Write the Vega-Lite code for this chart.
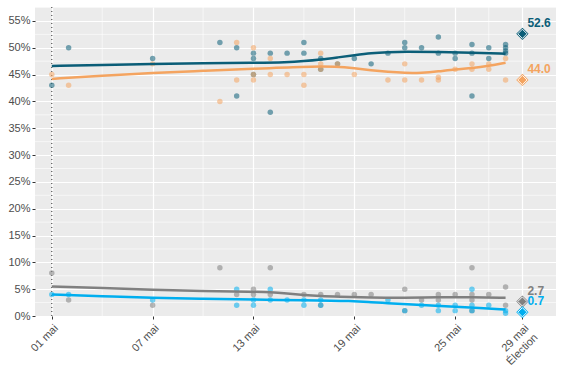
{
  "$schema": "https://vega.github.io/schema/vega-lite/v6.json",
  "width": 521,
  "height": 309,
  "autosize": "none",
  "padding": {"left": 35, "top": 7, "right": 7, "bottom": 60},
  "background": "white",
  "config": {
    "view": {"fill": "#EBEBEB", "stroke": null},
    "font": "Liberation Sans",
    "axis": {
      "domain": false,
      "grid": true,
      "gridColor": "white",
      "gridWidth": 1.2,
      "tickColor": "#333333",
      "tickSize": 3,
      "labelColor": "#4D4D4D",
      "labelFontSize": 11,
      "labelFont": "Liberation Sans",
      "labelOverlap": false,
      "title": null
    }
  },
  "datasets": {
    "polls": [
      {"date": "2019-05-01", "party": "A", "value": 43},
      {"date": "2019-05-02", "party": "A", "value": 50},
      {"date": "2019-05-07", "party": "A", "value": 48},
      {"date": "2019-05-11", "party": "A", "value": 51},
      {"date": "2019-05-12", "party": "A", "value": 50},
      {"date": "2019-05-12", "party": "A", "value": 41},
      {"date": "2019-05-13", "party": "A", "value": 49},
      {"date": "2019-05-13", "party": "A", "value": 48},
      {"date": "2019-05-13", "party": "A", "value": 45},
      {"date": "2019-05-14", "party": "A", "value": 49},
      {"date": "2019-05-14", "party": "A", "value": 38},
      {"date": "2019-05-15", "party": "A", "value": 49},
      {"date": "2019-05-16", "party": "A", "value": 51},
      {"date": "2019-05-16", "party": "A", "value": 49},
      {"date": "2019-05-17", "party": "A", "value": 48},
      {"date": "2019-05-17", "party": "A", "value": 46},
      {"date": "2019-05-18", "party": "A", "value": 47},
      {"date": "2019-05-19", "party": "A", "value": 48},
      {"date": "2019-05-20", "party": "A", "value": 47},
      {"date": "2019-05-21", "party": "A", "value": 49},
      {"date": "2019-05-22", "party": "A", "value": 51},
      {"date": "2019-05-22", "party": "A", "value": 50},
      {"date": "2019-05-23", "party": "A", "value": 50},
      {"date": "2019-05-24", "party": "A", "value": 52},
      {"date": "2019-05-24", "party": "A", "value": 49},
      {"date": "2019-05-25", "party": "A", "value": 49},
      {"date": "2019-05-25", "party": "A", "value": 48},
      {"date": "2019-05-26", "party": "A", "value": 50.6},
      {"date": "2019-05-26", "party": "A", "value": 49},
      {"date": "2019-05-26", "party": "A", "value": 41},
      {"date": "2019-05-27", "party": "A", "value": 50},
      {"date": "2019-05-27", "party": "A", "value": 48},
      {"date": "2019-05-28", "party": "A", "value": 50.6},
      {"date": "2019-05-28", "party": "A", "value": 50},
      {"date": "2019-05-28", "party": "A", "value": 49.4},
      {"date": "2019-05-28", "party": "A", "value": 49},
      {"date": "2019-05-01", "party": "B", "value": 45},
      {"date": "2019-05-02", "party": "B", "value": 43},
      {"date": "2019-05-07", "party": "B", "value": 47},
      {"date": "2019-05-11", "party": "B", "value": 40},
      {"date": "2019-05-12", "party": "B", "value": 51},
      {"date": "2019-05-12", "party": "B", "value": 44},
      {"date": "2019-05-13", "party": "B", "value": 50},
      {"date": "2019-05-13", "party": "B", "value": 45},
      {"date": "2019-05-13", "party": "B", "value": 44},
      {"date": "2019-05-14", "party": "B", "value": 48},
      {"date": "2019-05-14", "party": "B", "value": 45},
      {"date": "2019-05-15", "party": "B", "value": 45},
      {"date": "2019-05-16", "party": "B", "value": 45},
      {"date": "2019-05-16", "party": "B", "value": 43},
      {"date": "2019-05-17", "party": "B", "value": 49},
      {"date": "2019-05-17", "party": "B", "value": 47},
      {"date": "2019-05-17", "party": "B", "value": 46},
      {"date": "2019-05-18", "party": "B", "value": 47},
      {"date": "2019-05-19", "party": "B", "value": 45},
      {"date": "2019-05-21", "party": "B", "value": 44},
      {"date": "2019-05-22", "party": "B", "value": 47},
      {"date": "2019-05-22", "party": "B", "value": 44},
      {"date": "2019-05-23", "party": "B", "value": 44},
      {"date": "2019-05-24", "party": "B", "value": 44},
      {"date": "2019-05-24", "party": "B", "value": 44.5},
      {"date": "2019-05-25", "party": "B", "value": 46},
      {"date": "2019-05-26", "party": "B", "value": 47},
      {"date": "2019-05-26", "party": "B", "value": 46},
      {"date": "2019-05-27", "party": "B", "value": 47},
      {"date": "2019-05-27", "party": "B", "value": 46},
      {"date": "2019-05-28", "party": "B", "value": 48},
      {"date": "2019-05-28", "party": "B", "value": 44},
      {"date": "2019-05-01", "party": "C", "value": 8},
      {"date": "2019-05-02", "party": "C", "value": 3},
      {"date": "2019-05-07", "party": "C", "value": 2},
      {"date": "2019-05-11", "party": "C", "value": 9},
      {"date": "2019-05-12", "party": "C", "value": 4},
      {"date": "2019-05-13", "party": "C", "value": 5},
      {"date": "2019-05-13", "party": "C", "value": 4},
      {"date": "2019-05-14", "party": "C", "value": 9},
      {"date": "2019-05-14", "party": "C", "value": 4},
      {"date": "2019-05-16", "party": "C", "value": 4},
      {"date": "2019-05-17", "party": "C", "value": 4},
      {"date": "2019-05-17", "party": "C", "value": 2},
      {"date": "2019-05-18", "party": "C", "value": 4},
      {"date": "2019-05-19", "party": "C", "value": 4},
      {"date": "2019-05-20", "party": "C", "value": 4},
      {"date": "2019-05-22", "party": "C", "value": 5},
      {"date": "2019-05-22", "party": "C", "value": 1},
      {"date": "2019-05-23", "party": "C", "value": 3},
      {"date": "2019-05-24", "party": "C", "value": 4},
      {"date": "2019-05-24", "party": "C", "value": 3},
      {"date": "2019-05-25", "party": "C", "value": 4},
      {"date": "2019-05-26", "party": "C", "value": 9},
      {"date": "2019-05-26", "party": "C", "value": 4},
      {"date": "2019-05-26", "party": "C", "value": 3},
      {"date": "2019-05-26", "party": "C", "value": 1},
      {"date": "2019-05-27", "party": "C", "value": 4},
      {"date": "2019-05-28", "party": "C", "value": 5.4},
      {"date": "2019-05-28", "party": "C", "value": 2},
      {"date": "2019-05-01", "party": "D", "value": 4},
      {"date": "2019-05-02", "party": "D", "value": 4},
      {"date": "2019-05-07", "party": "D", "value": 3},
      {"date": "2019-05-12", "party": "D", "value": 5},
      {"date": "2019-05-12", "party": "D", "value": 2},
      {"date": "2019-05-13", "party": "D", "value": 3},
      {"date": "2019-05-13", "party": "D", "value": 2},
      {"date": "2019-05-14", "party": "D", "value": 5},
      {"date": "2019-05-14", "party": "D", "value": 3},
      {"date": "2019-05-15", "party": "D", "value": 3},
      {"date": "2019-05-16", "party": "D", "value": 3},
      {"date": "2019-05-16", "party": "D", "value": 2},
      {"date": "2019-05-17", "party": "D", "value": 3},
      {"date": "2019-05-17", "party": "D", "value": 2},
      {"date": "2019-05-21", "party": "D", "value": 3},
      {"date": "2019-05-22", "party": "D", "value": 1},
      {"date": "2019-05-23", "party": "D", "value": 2},
      {"date": "2019-05-24", "party": "D", "value": 2},
      {"date": "2019-05-24", "party": "D", "value": 1},
      {"date": "2019-05-25", "party": "D", "value": 2},
      {"date": "2019-05-25", "party": "D", "value": 1},
      {"date": "2019-05-26", "party": "D", "value": 5},
      {"date": "2019-05-26", "party": "D", "value": 2},
      {"date": "2019-05-26", "party": "D", "value": 1},
      {"date": "2019-05-27", "party": "D", "value": 2},
      {"date": "2019-05-28", "party": "D", "value": 1},
      {"date": "2019-05-28", "party": "D", "value": 0.5}
    ],
    "trend": [
      {"date": "2019-05-01", "party": "A", "value": 46.6},
      {"date": "2019-05-04", "party": "A", "value": 46.8},
      {"date": "2019-05-07", "party": "A", "value": 47.0},
      {"date": "2019-05-10", "party": "A", "value": 47.1},
      {"date": "2019-05-13", "party": "A", "value": 47.2},
      {"date": "2019-05-15", "party": "A", "value": 47.3},
      {"date": "2019-05-16", "party": "A", "value": 47.5},
      {"date": "2019-05-17", "party": "A", "value": 47.8},
      {"date": "2019-05-18", "party": "A", "value": 48.2},
      {"date": "2019-05-19", "party": "A", "value": 48.6},
      {"date": "2019-05-20", "party": "A", "value": 49.0},
      {"date": "2019-05-21", "party": "A", "value": 49.2},
      {"date": "2019-05-22", "party": "A", "value": 49.3},
      {"date": "2019-05-24", "party": "A", "value": 49.2},
      {"date": "2019-05-26", "party": "A", "value": 49.1},
      {"date": "2019-05-28", "party": "A", "value": 48.9},
      {"date": "2019-05-01", "party": "B", "value": 44.2},
      {"date": "2019-05-04", "party": "B", "value": 44.8},
      {"date": "2019-05-07", "party": "B", "value": 45.3},
      {"date": "2019-05-10", "party": "B", "value": 45.7},
      {"date": "2019-05-13", "party": "B", "value": 46.1},
      {"date": "2019-05-16", "party": "B", "value": 46.5},
      {"date": "2019-05-18", "party": "B", "value": 46.5},
      {"date": "2019-05-19", "party": "B", "value": 46.2},
      {"date": "2019-05-20", "party": "B", "value": 45.8},
      {"date": "2019-05-21", "party": "B", "value": 45.5},
      {"date": "2019-05-22", "party": "B", "value": 45.3},
      {"date": "2019-05-23", "party": "B", "value": 45.3},
      {"date": "2019-05-24", "party": "B", "value": 45.6},
      {"date": "2019-05-25", "party": "B", "value": 46.0},
      {"date": "2019-05-26", "party": "B", "value": 46.2},
      {"date": "2019-05-27", "party": "B", "value": 46.6},
      {"date": "2019-05-28", "party": "B", "value": 47.2},
      {"date": "2019-05-01", "party": "C", "value": 5.5},
      {"date": "2019-05-04", "party": "C", "value": 5.2},
      {"date": "2019-05-07", "party": "C", "value": 4.9},
      {"date": "2019-05-10", "party": "C", "value": 4.65},
      {"date": "2019-05-13", "party": "C", "value": 4.5},
      {"date": "2019-05-14", "party": "C", "value": 4.45},
      {"date": "2019-05-15", "party": "C", "value": 4.2},
      {"date": "2019-05-16", "party": "C", "value": 3.9},
      {"date": "2019-05-17", "party": "C", "value": 3.7},
      {"date": "2019-05-18", "party": "C", "value": 3.6},
      {"date": "2019-05-20", "party": "C", "value": 3.45},
      {"date": "2019-05-22", "party": "C", "value": 3.4},
      {"date": "2019-05-24", "party": "C", "value": 3.5},
      {"date": "2019-05-26", "party": "C", "value": 3.5},
      {"date": "2019-05-28", "party": "C", "value": 3.4},
      {"date": "2019-05-01", "party": "D", "value": 4.0},
      {"date": "2019-05-04", "party": "D", "value": 3.7},
      {"date": "2019-05-07", "party": "D", "value": 3.4},
      {"date": "2019-05-10", "party": "D", "value": 3.2},
      {"date": "2019-05-13", "party": "D", "value": 3.05},
      {"date": "2019-05-16", "party": "D", "value": 2.95},
      {"date": "2019-05-19", "party": "D", "value": 2.8},
      {"date": "2019-05-20", "party": "D", "value": 2.55},
      {"date": "2019-05-21", "party": "D", "value": 2.4},
      {"date": "2019-05-22", "party": "D", "value": 2.2},
      {"date": "2019-05-24", "party": "D", "value": 1.9},
      {"date": "2019-05-25", "party": "D", "value": 1.75},
      {"date": "2019-05-26", "party": "D", "value": 1.55},
      {"date": "2019-05-28", "party": "D", "value": 1.2}
    ],
    "results": [
      {"date": "2019-05-29", "party": "A", "value": 52.6, "label": "52.6"},
      {"date": "2019-05-29", "party": "B", "value": 44.0, "label": "44.0"},
      {"date": "2019-05-29", "party": "C", "value": 2.7, "label": "2.7"},
      {"date": "2019-05-29", "party": "D", "value": 0.7, "label": "0.7"}
    ],
    "gridx": [
      {"date": "2019-05-04"},
      {"date": "2019-05-10"},
      {"date": "2019-05-16"},
      {"date": "2019-05-22"},
      {"date": "2019-05-27"}
    ],
    "gridy": [
      {"value": 2.5}, {"value": 7.5}, {"value": 12.5}, {"value": 17.5},
      {"value": 22.5}, {"value": 27.5}, {"value": 32.5}, {"value": 37.5},
      {"value": 42.5}, {"value": 47.5}, {"value": 52.5}, {"value": 57.5}
    ],
    "vline": [
      {"date": "2019-05-01"}
    ]
  },
  "layer": [
    {
      "data": {"name": "gridx"},
      "mark": {"type": "rule", "color": "white", "strokeWidth": 0.6},
      "encoding": {
        "x": {
          "field": "date", "type": "temporal",
          "scale": {"type": "utc", "domain": [{"year": 2019, "month": "apr", "date": 30, "utc": true}, {"year": 2019, "month": "may", "date": 31, "utc": true}]},
          "axis": {
            "values": [
              {"year": 2019, "month": "may", "date": 1, "utc": true},
              {"year": 2019, "month": "may", "date": 7, "utc": true},
              {"year": 2019, "month": "may", "date": 13, "utc": true},
              {"year": 2019, "month": "may", "date": 19, "utc": true},
              {"year": 2019, "month": "may", "date": 25, "utc": true},
              {"year": 2019, "month": "may", "date": 29, "utc": true}
            ],
            "labelAngle": -45,
            "labelAlign": "right",
            "labelBaseline": "top",
            "labelPadding": 3,
            "labelOverlap": false,
            "labelExpr": "utcdate(datum.value) == 29 ? ['29 mai', 'Élection'] : utcFormat(datum.value, '%d') + ' mai'"
          }
        }
      }
    },
    {
      "data": {"name": "gridy"},
      "mark": {"type": "rule", "color": "white", "strokeWidth": 0.6},
      "encoding": {
        "y": {
          "field": "value", "type": "quantitative",
          "scale": {"domain": [0, 57.6], "nice": false, "zero": true},
          "axis": {
            "values": [0, 5, 10, 15, 20, 25, 30, 35, 40, 45, 50, 55],
            "tickCount": 12,
            "labelExpr": "datum.value + '%'",
            "labelOverlap": false,
            "labelPadding": 2
          }
        }
      }
    },
    {
      "data": {"name": "vline"},
      "mark": {"type": "rule", "color": "#333333", "strokeWidth": 1, "strokeDash": [1, 3]},
      "encoding": {
        "x": {"field": "date", "type": "temporal"}
      }
    },
    {
      "data": {"name": "polls"},
      "mark": {"type": "circle", "size": 30, "opacity": 0.55},
      "encoding": {
        "x": {"field": "date", "type": "temporal"},
        "y": {"field": "value", "type": "quantitative"},
        "color": {
          "field": "party", "type": "nominal",
          "scale": {"domain": ["A", "B", "C", "D"], "range": ["#0B5E78", "#F4A460", "#808080", "#00AEEF"]},
          "legend": null
        }
      }
    },
    {
      "data": {"name": "trend"},
      "mark": {"type": "line", "strokeWidth": 2.5, "interpolate": "basis"},
      "encoding": {
        "x": {"field": "date", "type": "temporal"},
        "y": {"field": "value", "type": "quantitative"},
        "color": {"field": "party", "type": "nominal"}
      }
    },
    {
      "data": {"name": "results"},
      "mark": {"type": "point", "shape": "diamond", "filled": true, "size": 150, "opacity": 1},
      "encoding": {
        "x": {"field": "date", "type": "temporal"},
        "y": {"field": "value", "type": "quantitative"},
        "color": {"field": "party", "type": "nominal"}
      }
    },
    {
      "data": {"name": "results"},
      "mark": {"type": "point", "shape": "diamond", "filled": true, "size": 85, "opacity": 1, "stroke": "white", "strokeWidth": 0.9},
      "encoding": {
        "x": {"field": "date", "type": "temporal"},
        "y": {"field": "value", "type": "quantitative"},
        "fill": {"field": "party", "type": "nominal", "scale": {"domain": ["A", "B", "C", "D"], "range": ["#0B5E78", "#F4A460", "#808080", "#00AEEF"]}, "legend": null}
      }
    },
    {
      "data": {"name": "results"},
      "mark": {"type": "text", "align": "left", "baseline": "alphabetic", "dx": 5, "dy": -7, "fontSize": 12, "fontWeight": "bold", "font": "Liberation Sans"},
      "encoding": {
        "x": {"field": "date", "type": "temporal"},
        "y": {"field": "value", "type": "quantitative"},
        "text": {"field": "label"},
        "color": {"field": "party", "type": "nominal"}
      }
    }
  ]
}
